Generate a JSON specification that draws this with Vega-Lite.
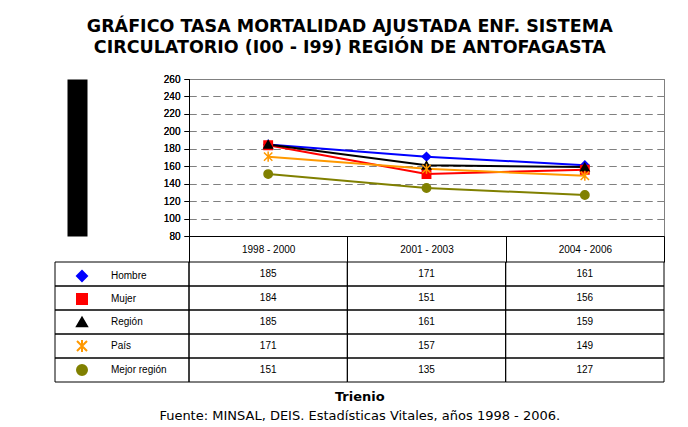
{
  "$schema": "https://vega.github.io/schema/vega-lite/v6.json",
  "background": "white",
  "padding": {"left": 54, "top": 18, "right": 10, "bottom": 2},
  "config": {"font": "Liberation Sans", "view": {"stroke": null}},
  "title": {
    "text": ["GRÁFICO TASA MORTALIDAD AJUSTADA ENF. SISTEMA", "CIRCULATORIO (I00 - I99) REGIÓN DE ANTOFAGASTA"],
    "fontSize": 17.5, "fontWeight": "bold", "font": "DejaVu Sans", "lineHeight": 21,
    "anchor": "middle", "offset": 17, "dx": -10, "color": "black"
  },
  "datasets": {
    "tasas": [
      {"serie": "Hombre", "trienio": "1998 - 2000", "valor": 185},
      {"serie": "Hombre", "trienio": "2001 - 2003", "valor": 171},
      {"serie": "Hombre", "trienio": "2004 - 2006", "valor": 161},
      {"serie": "Mujer", "trienio": "1998 - 2000", "valor": 184},
      {"serie": "Mujer", "trienio": "2001 - 2003", "valor": 151},
      {"serie": "Mujer", "trienio": "2004 - 2006", "valor": 156},
      {"serie": "Región", "trienio": "1998 - 2000", "valor": 185},
      {"serie": "Región", "trienio": "2001 - 2003", "valor": 161},
      {"serie": "Región", "trienio": "2004 - 2006", "valor": 159},
      {"serie": "País", "trienio": "1998 - 2000", "valor": 171},
      {"serie": "País", "trienio": "2001 - 2003", "valor": 157},
      {"serie": "País", "trienio": "2004 - 2006", "valor": 149},
      {"serie": "Mejor región", "trienio": "1998 - 2000", "valor": 151},
      {"serie": "Mejor región", "trienio": "2001 - 2003", "valor": 135},
      {"serie": "Mejor región", "trienio": "2004 - 2006", "valor": 127}
    ],
    "series": [
      {"serie": "Hombre"}, {"serie": "Mujer"}, {"serie": "Región"}, {"serie": "País"}, {"serie": "Mejor región"}
    ]
  },
  "vconcat": [
    {
      "title": {
        "text": "Trienio",
        "subtitle": "Fuente: MINSAL, DEIS. Estadísticas Vitales, años 1998 - 2006.",
        "orient": "bottom", "anchor": "middle", "fontSize": 13, "fontWeight": "bold", "font": "DejaVu Sans", "color": "black",
        "subtitleFontSize": 13, "subtitleColor": "black", "subtitleFont": "DejaVu Sans", "offset": 8, "subtitlePadding": 6
      },
      "columns": 2,
      "spacing": {"row": 26, "column": 0},
      "bounds": "flush",
      "align": "each",
      "resolve": {"scale": {"x": "independent", "y": "independent"}},
      "concat": [
        {
          "width": 134, "height": 157,
          "data": {"values": [{}]},
          "mark": {"type": "rect", "opacity": 0}
        },
        {
          "width": 475, "height": 157,
          "view": {"stroke": "#808080"},
          "data": {"name": "tasas"},
          "encoding": {
            "x": {
              "field": "trienio", "type": "nominal", "sort": null, "bandPosition": 0.5,
              "scale": {"type": "band", "paddingInner": 0, "paddingOuter": 0},
              "axis": {
                "title": null, "orient": "bottom", "domainColor": "black", "tickColor": "black",
                "tickSize": 26, "tickBand": "extent", "labelAngle": 0, "labelFontSize": 10,
                "labelColor": "black", "labelPadding": -18, "grid": false
              }
            },
            "y": {
              "field": "valor", "type": "quantitative",
              "scale": {"domain": [80, 260], "nice": false, "zero": false},
              "axis": {
                "orient": "left", "values": [80, 100, 120, 140, 160, 180, 200, 220, 240, 260],
                "title": null, "domainColor": "black", "tickColor": "black", "tickSize": 5,
                "labelPadding": 4, "labelFontSize": 10, "labelColor": "black",
                "grid": true, "gridColor": "#808080", "gridDash": [7, 5], "gridWidth": 1
              }
            }
          },
          "layer": [
            {
              "mark": {"type": "line", "strokeWidth": 2},
              "encoding": {
                "color": {
                  "field": "serie", "type": "nominal",
                  "scale": {"domain": ["Hombre", "Mujer", "Región", "País", "Mejor región"], "range": ["#0000FF", "#FF0000", "#000000", "#FF9900", "#808000"]}
                }
              }
            },
            {
              "mark": {"type": "point", "filled": true, "size": 70, "opacity": 1, "strokeWidth": 1.5},
              "encoding": {
                "color": {
                  "field": "serie", "type": "nominal",
                  "scale": {"domain": ["Hombre", "Mujer", "Región", "País", "Mejor región"], "range": ["#0000FF", "#FF0000", "#000000", "#FF9900", "#808000"]},
                  "legend": {
                    "orient": "none", "legendX": 21, "legendY": 191, "title": null, "padding": 0,
                    "symbolSize": 100, "symbolStrokeWidth": 2, "labelOffset": 23, "rowPadding": 5,
                    "labelFontSize": 10, "labelColor": "black", "labelFont": "Liberation Sans"
                  }
                },
                "shape": {
                  "field": "serie", "type": "nominal",
                  "scale": {"domain": ["Hombre", "Mujer", "Región", "País", "Mejor región"], "range": ["diamond", "square", "triangle-up", "M-1,-1L1,1M-1,1L1,-1M0,-1.2L0,1.2", "circle"]},
                  "legend": null
                },
                "stroke": {
                  "field": "serie", "type": "nominal",
                  "scale": {"domain": ["Hombre", "Mujer", "Región", "País", "Mejor región"], "range": ["#0000FF", "#FF0000", "#000000", "#FF9900", "#808000"]},
                  "legend": null
                }
              }
            },
            {
              "mark": {"type": "point", "opacity": 0},
              "encoding": {
                "y": {
                  "field": "valor", "type": "quantitative",
                  "axis": {"orient": "left", "offset": 112, "domainWidth": 20, "domainColor": "black", "labels": false, "ticks": false, "grid": false, "title": null}
                }
              }
            }
          ],
          "resolve": {"axis": {"y": "independent"}}
        },
        {
          "width": 134, "height": 120,
          "data": {"name": "series"},
          "mark": {"type": "rect", "fillOpacity": 0, "stroke": "black", "strokeWidth": 1},
          "encoding": {
            "y": {"field": "serie", "type": "nominal", "sort": null, "scale": {"paddingInner": 0, "paddingOuter": 0}, "axis": null}
          }
        },
        {
          "width": 475, "height": 120,
          "data": {"name": "tasas"},
          "encoding": {
            "x": {"field": "trienio", "type": "nominal", "sort": null, "scale": {"paddingInner": 0, "paddingOuter": 0}, "axis": null},
            "y": {"field": "serie", "type": "nominal", "sort": null, "scale": {"paddingInner": 0, "paddingOuter": 0}, "axis": null}
          },
          "layer": [
            {"mark": {"type": "rect", "fillOpacity": 0, "stroke": "black", "strokeWidth": 1}},
            {"mark": {"type": "text", "fontSize": 10, "color": "black"}, "encoding": {"text": {"field": "valor", "type": "quantitative"}}}
          ]
        }
      ]
    }
  ]
}
